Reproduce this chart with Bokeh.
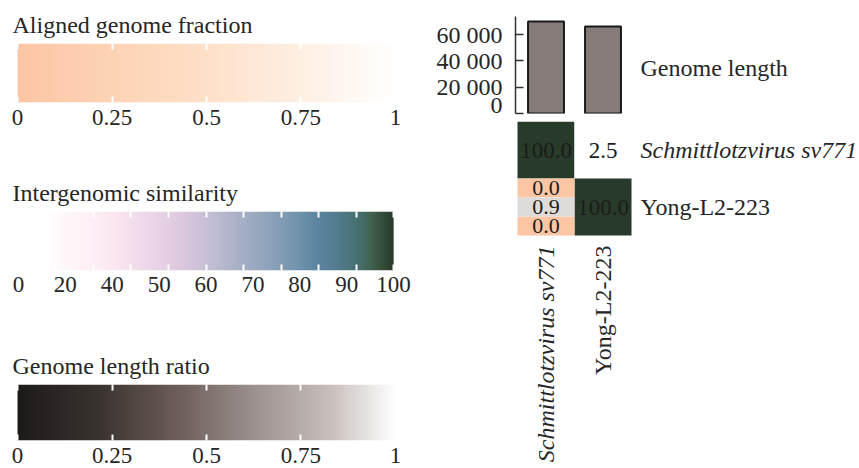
import numpy as np
from bokeh.plotting import figure
from bokeh.layouts import row, column
from bokeh.models import Range1d, LinearColorMapper, FixedTicker, LinearAxis, ColumnDataSource
from bokeh.transform import linear_cmap
from bokeh.embed import file_html
from bokeh.resources import INLINE
from bokeh.core.properties import value

# ---------------- data ----------------
genomes = ["Schmittlotzvirus sv771", "Yong-L2-223"]
genome_style = ["italic", "normal"]
genome_length = [70000, 66200]
length_title = ["Genome length"]

# intergenomic similarity (%), diagonal + upper triangle
sim_col = [0, 1, 1]
sim_row = [0, 0, 1]
sim_val = [100.0, 2.5, 100.0]

# lower triangle cell (row 1, col 0): aligned fraction g1 / length ratio / aligned fraction g2
lower_aligned = [0.0, 0.0]
lower_ratio = [0.9]

len_ticks = [0, 20000, 40000, 60000]
frac_ticks = [0, 0.25, 0.5, 0.75, 1]
frac_labels = ["0", "0.25", "0.5", "0.75", "1"]
sim_label_pos = [0, 12.5, 25, 37.5, 50, 62.5, 75, 87.5, 100]
sim_labels = ["0", "20", "40", "50", "60", "70", "80", "90", "100"]
sim_marks = [0, 10, 20, 30, 40, 50, 60, 70, 80, 90, 100]

FONT = "Liberation Serif"
TXT = "#262626"
CELL_PX = 57
Y_MAX = 73800


def ramp(stops, n=256):
    pos = np.array([s[0] for s in stops], dtype=float)
    cols = np.array([[int(s[1][i:i + 2], 16) for i in (1, 3, 5)] for s in stops], dtype=float)
    t = np.linspace(pos[0], pos[-1], n)
    out = []
    for v in t:
        rgb = [np.interp(v, pos, cols[:, k]) for k in range(3)]
        out.append("#%02x%02x%02x" % tuple(int(round(c)) for c in rgb))
    return out


frac_pal = ramp([(0, "#fcc6a4"), (0.5, "#fee0c8"), (1, "#ffffff")])
sim_pal = ramp([(0, "#ffffff"), (5.8, "#ffffff"), (24, "#fde9f2"), (42.7, "#dfc9e0"),
                (50.7, "#c5bfd5"), (58.6, "#a9b0c8"), (66.5, "#8ea4ba"), (74.4, "#7294ad"),
                (79.7, "#5d85a0"), (85.8, "#517a8c"), (91, "#466f6e"), (94.7, "#3f5f4a"),
                (100, "#283a2a")])
ratio_pal = ramp([(0, "#1e1a18"), (0.22, "#3a3430"), (0.43, "#6f5f5b"), (0.62, "#9a908e"),
                  (0.83, "#c8c0bd"), (1, "#ffffff")])


def style_fig(p):
    p.outline_line_color = None
    p.grid.visible = False
    p.background_fill_color = "white"
    p.border_fill_color = "white"


def blank_axis(ticks):
    ax = LinearAxis(ticker=FixedTicker(ticks=ticks))
    ax.major_label_overrides = {t: "" for t in ticks}
    ax.major_label_text_font_size = "0px"
    ax.major_label_standoff = 0
    ax.axis_line_color = None
    ax.major_tick_out = 0
    ax.major_tick_in = 6
    ax.major_tick_line_color = "white"
    ax.major_tick_line_width = 2
    ax.minor_tick_line_color = None
    return ax


def label_axis(pos, labels, with_ticks, standoff):
    ax = LinearAxis(ticker=FixedTicker(ticks=pos))
    ax.major_label_overrides = {p_: l for p_, l in zip(pos, labels)}
    ax.major_label_text_font = FONT
    ax.major_label_text_font_size = "23px"
    ax.major_label_text_color = TXT
    ax.major_label_standoff = standoff
    ax.axis_line_color = None
    ax.major_tick_out = 0
    if with_ticks:
        ax.major_tick_in = 6
        ax.major_tick_line_color = "white"
        ax.major_tick_line_width = 2
    else:
        ax.major_tick_line_color = None
    ax.minor_tick_line_color = None
    return ax


def colorbar_fig(title, pal, lo, hi, xr, height, top, frame_h, lab_pos, labels, marks, right):
    p = figure(width=428, height=height, x_range=Range1d(*xr), y_range=Range1d(0, 1),
               output_backend="svg", toolbar_location=None,
               x_axis_location=None, y_axis_location=None,
               min_border_left=14, min_border_right=right, min_border_top=top,
               min_border_bottom=height - top - frame_h)
    style_fig(p)
    p.title.text = title
    p.title.text_font = FONT
    p.title.text_font_size = "24px"
    p.title.text_font_style = "normal"
    p.title.text_color = TXT
    p.title.standoff = 12
    p.title.offset = -2
    mapper = LinearColorMapper(palette=pal, low=lo, high=hi)
    grad = np.linspace(lo, hi, 500)[None, :]
    p.image(image=[grad], x=lo, y=0, dw=hi - lo, dh=1, color_mapper=mapper)
    p.add_layout(blank_axis(marks), "above")
    if marks == lab_pos:
        p.add_layout(label_axis(lab_pos, labels, True, 7), "below")
    else:
        p.add_layout(blank_axis(marks), "below")
        p.add_layout(label_axis(lab_pos, labels, False, 6), "below")
    return p


f1 = colorbar_fig("Aligned genome fraction", frac_pal, 0, 1, (-0.008, 1.008), 170, 43, 59,
                  frac_ticks, frac_labels, frac_ticks, 30)
f2 = colorbar_fig("Intergenomic similarity", sim_pal, 0, 100, (-1.05, 101.3), 174, 41, 59,
                  sim_label_pos, sim_labels, sim_marks, 26)
f3 = colorbar_fig("Genome length ratio", ratio_pal, 0, 1, (-0.008, 1.008), 122, 37, 59,
                  frac_ticks, frac_labels, frac_ticks, 30)

n = len(genomes)
R_W = 429
R_LEFT = 87
frame_w = R_W - R_LEFT
x_lo = -2 / CELL_PX
x_hi = x_lo + frame_w / CELL_PX

# ---------------- genome length bars ----------------
fb = figure(width=R_W, height=117, x_range=Range1d(x_lo, x_hi), y_range=Range1d(0, Y_MAX),
            output_backend="svg", toolbar_location=None,
            x_axis_location=None, y_axis_location=None,
            min_border_left=R_LEFT, min_border_right=0, min_border_top=16, min_border_bottom=4)
style_fig(fb)
bsrc = ColumnDataSource(dict(x=[i + 0.5 for i in range(n)], top=genome_length))
fb.vbar(x="x", top="top", width=0.63, bottom=0, source=bsrc,
        fill_color="#857b79", line_color="#1a1a1a", line_width=2)
yax = LinearAxis(ticker=FixedTicker(ticks=len_ticks))
yax.major_label_overrides = {t: f"{t:,}".replace(",", " ") for t in len_ticks}
yax.major_label_text_font = FONT
yax.major_label_text_font_size = "24px"
yax.major_label_text_color = TXT
yax.major_tick_out = 0
yax.major_tick_in = 8
yax.major_tick_line_color = "#333333"
yax.major_tick_line_width = 1.5
yax.axis_line_color = "#333333"
yax.axis_line_width = 1.5
yax.major_label_standoff = 13
yax.minor_tick_line_color = None
fb.add_layout(yax, "left")
tsrc = ColumnDataSource(dict(x=[n], y=[Y_MAX / 2], t=length_title))
fb.text(x="x", y="y", text="t", source=tsrc, x_offset=9, y_offset=3, text_align="left",
        text_baseline="middle", text_font=value(FONT), text_font_size="24px", text_color=TXT)

# ---------------- heatmap (frame extends to hold the genome labels) ----------------
FH_H = 349
frame_h = FH_H - 4
fh = figure(width=R_W, height=FH_H, x_range=Range1d(x_lo, x_hi),
            y_range=Range1d(frame_h / CELL_PX, 0),
            output_backend="svg", toolbar_location=None,
            x_axis_location=None, y_axis_location=None,
            min_border_left=R_LEFT, min_border_right=0, min_border_top=4, min_border_bottom=0)
style_fig(fh)
hsrc = ColumnDataSource(dict(x=[c + 0.5 for c in sim_col], y=[r + 0.5 for r in sim_row],
                             v=sim_val, t=[f"{v:.1f}" for v in sim_val]))
fh.rect(x="x", y="y", width=1, height=1, source=hsrc,
        fill_color=linear_cmap("v", sim_pal, 0, 100), line_color=None)
fh.text(x="x", y="y", text="t", source=hsrc, text_align="center", text_baseline="middle",
        text_font=value(FONT), text_font_size="23px", text_color="#1c1c1c")

asrc = ColumnDataSource(dict(x=[0.5, 0.5], y=[1 + 1 / 6, 1 + 5 / 6], v=lower_aligned,
                             t=[f"{v:.1f}" for v in lower_aligned]))
rsrc = ColumnDataSource(dict(x=[0.5], y=[1.5], v=lower_ratio, t=[f"{v:.1f}" for v in lower_ratio]))
fh.rect(x="x", y="y", width=1, height=1 / 3, source=asrc,
        fill_color=linear_cmap("v", frac_pal, 0, 1), line_color=None)
fh.rect(x="x", y="y", width=1, height=1 / 3, source=rsrc,
        fill_color=linear_cmap("v", ratio_pal, 0, 1), line_color=None)
for s in (asrc, rsrc):
    fh.text(x="x", y="y", text="t", source=s, text_align="center", text_baseline="middle",
            text_font=value(FONT), text_font_size="22px", text_color="#1c1c1c")

gsrc = ColumnDataSource(dict(xr=[n] * n, yr=[i + 0.5 for i in range(n)],
                             xb=[i + 0.5 for i in range(n)], yb=[n] * n,
                             name=genomes, style=genome_style))
fh.text(x="xr", y="yr", text="name", source=gsrc, x_offset=9, text_align="left",
        text_baseline="middle", text_font=value(FONT), text_font_size="24px",
        text_font_style="style", text_color=TXT)
fh.text(x="xb", y="yb", text="name", source=gsrc, y_offset=10, angle=np.pi / 2,
        text_align="right", text_baseline="middle", text_font=value(FONT),
        text_font_size="24px", text_font_style="style", text_color=TXT)

layout = row(column(f1, f2, f3), column(fb, fh))
open("out.html", "w").write(file_html(layout, INLINE))
